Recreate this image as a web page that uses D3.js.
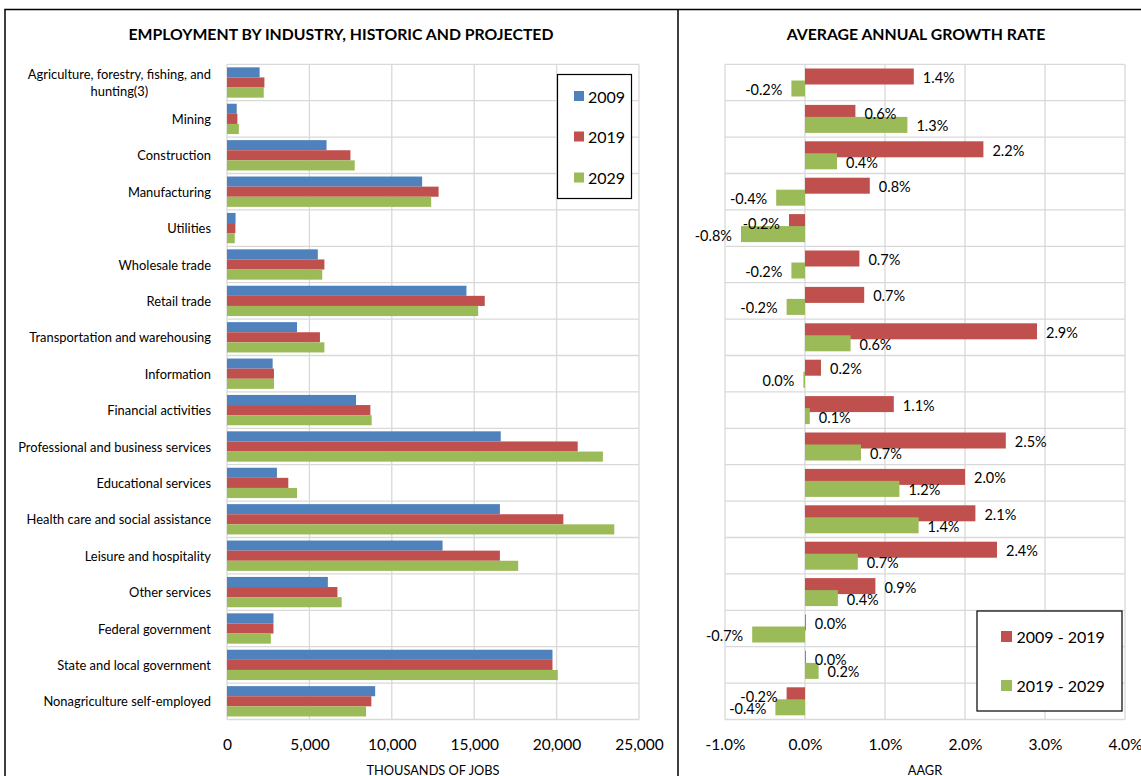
<!DOCTYPE html>
<html>
<head>
<meta charset="utf-8">
<script src="https://cdn.jsdelivr.net/npm/d3@7"></script>
<style>
  html, body { margin: 0; padding: 0; background: #fff; }
  svg { display: block; font-family: Lato, "Liberation Sans", sans-serif; }
</style>
</head>
<body>
<svg id="chart" width="1141" height="776"></svg>
<script>
// Industries, top to bottom
const categories = [
  "Agriculture, forestry, fishing, and hunting(3)",
  "Mining",
  "Construction",
  "Manufacturing",
  "Utilities",
  "Wholesale trade",
  "Retail trade",
  "Transportation and warehousing",
  "Information",
  "Financial activities",
  "Professional and business services",
  "Educational services",
  "Health care and social assistance",
  "Leisure and hospitality",
  "Other services",
  "Federal government",
  "State and local government",
  "Nonagriculture self-employed"
];

// Employment, thousands of jobs
const jobs2009 = [1.98, 0.59, 6.04, 11.84, 0.52, 5.51, 14.53, 4.25, 2.77, 7.83, 16.61, 3.03, 16.56, 13.08, 6.12, 2.82, 19.75, 8.99].map(v => v * 1000);
const jobs2019 = [2.27, 0.63, 7.49, 12.84, 0.51, 5.91, 15.64, 5.64, 2.85, 8.70, 21.28, 3.72, 20.41, 16.56, 6.70, 2.82, 19.75, 8.76].map(v => v * 1000);
const jobs2029 = [2.23, 0.72, 7.75, 12.39, 0.47, 5.78, 15.24, 5.91, 2.85, 8.78, 22.81, 4.25, 23.50, 17.67, 6.96, 2.66, 20.07, 8.44].map(v => v * 1000);
const jobYears = ["2009", "2019", "2029"];

// Average annual growth rate, percent
const growth0919 = [1.36, 0.63, 2.23, 0.81, -0.20, 0.68, 0.74, 2.90, 0.20, 1.11, 2.51, 2.00, 2.13, 2.40, 0.88, 0.01, 0.01, -0.23];
const growth1929 = [-0.17, 1.28, 0.40, -0.36, -0.80, -0.17, -0.23, 0.57, -0.02, 0.06, 0.70, 1.18, 1.42, 0.66, 0.41, -0.66, 0.17, -0.37];
const growthPeriods = ["2009 - 2019", "2019 - 2029"];

// Axis ticks
const jobTicks = [0, 5000, 10000, 15000, 20000, 25000];
const growthTicks = [-1, 0, 1, 2, 3, 4];

const colors = { blue: "#4f81bd", red: "#c0504d", green: "#9bbb59" };
const gridColor = "#d9d9d9";

// plain hyphen for negatives, and no "-0.0"
const fmt1 = v => {
  const s = d3.format(".1f")(v).replace("\u2212", "-");
  return s === "-0.0" ? "0.0" : s;
};
const pct = v => fmt1(v) + "%";

const svg = d3.select("#chart");

// Panel frames
svg.append("path")
  .attr("d", "M5,800 V9.5 H1141 M678,9.5 V800")
  .attr("fill", "none").attr("stroke", "#000").attr("stroke-width", 1.5);

const plotTop = 64.3, plotBottom = 719.5;

const rowScale = d3.scaleBand().domain(d3.range(categories.length)).range([plotTop, plotBottom]).padding(0);

// ---------- Left: employment by industry ----------
const xJobs = d3.scaleLinear().domain([0, 25000]).range([227, 639]);
const left = svg.append("g");

left.append("text")
  .attr("x", 341).attr("y", 33).attr("text-anchor", "middle").attr("dominant-baseline", "central")
  .attr("font-weight", "bold").attr("font-size", 15.8).attr("fill", "#000")
  .text("EMPLOYMENT BY INDUSTRY, HISTORIC AND PROJECTED");

// vertical gridlines
left.append("g").selectAll("line").data(jobTicks).join("line")
  .attr("x1", d => xJobs(d)).attr("x2", d => xJobs(d))
  .attr("y1", plotTop).attr("y2", plotBottom)
  .attr("stroke", gridColor).attr("stroke-width", 1.3);
// horizontal category separators
left.append("g").selectAll("line").data(d3.range(categories.length + 1)).join("line")
  .attr("x1", xJobs(0)).attr("x2", xJobs(25000))
  .attr("y1", i => plotTop + rowScale.step() * i).attr("y2", i => plotTop + rowScale.step() * i)
  .attr("stroke", gridColor).attr("stroke-width", 1.3);

const inner3 = d3.scaleBand().domain(jobYears).range([0, rowScale.bandwidth()]).paddingInner(0).paddingOuter(0.3);
const jobSeries = [
  { key: "2009", values: jobs2009, color: colors.blue },
  { key: "2019", values: jobs2019, color: colors.red },
  { key: "2029", values: jobs2029, color: colors.green }
];
jobSeries.forEach(s => {
  left.append("g").selectAll("rect").data(s.values).join("rect")
    .attr("x", xJobs(0))
    .attr("y", (d, i) => rowScale(i) + inner3(s.key))
    .attr("width", d => xJobs(d) - xJobs(0))
    .attr("height", inner3.bandwidth())
    .attr("fill", s.color);
});

// category labels, wrapped when too wide
const labelRight = 211, maxLabelWidth = 208;
const labelG = left.append("g").attr("font-size", 12.9).attr("fill", "#000");
categories.forEach((name, i) => {
  const cy = rowScale(i) + rowScale.bandwidth() / 2;
  const probe = labelG.append("text").text(name);
  const full = probe.node().getComputedTextLength();
  if (full <= maxLabelWidth) {
    probe.attr("x", labelRight).attr("y", cy).attr("text-anchor", "end").attr("dominant-baseline", "central");
    return;
  }
  probe.remove();
  const words = name.split(" ");
  const lines = [];
  let cur = "";
  const meas = labelG.append("text");
  words.forEach(w => {
    const t = cur ? cur + " " + w : w;
    meas.text(t);
    if (meas.node().getComputedTextLength() > maxLabelWidth && cur) { lines.push(cur); cur = w; }
    else cur = t;
  });
  lines.push(cur);
  let widest = 0;
  lines.forEach(l => { meas.text(l); widest = Math.max(widest, meas.node().getComputedTextLength()); });
  meas.remove();
  const lh = 16.5;
  const cx = labelRight - widest / 2;
  lines.forEach((l, k) => {
    labelG.append("text").attr("x", cx).attr("y", cy + (k - (lines.length - 1) / 2) * lh)
      .attr("text-anchor", "middle").attr("dominant-baseline", "central").text(l);
  });
});

// x axis
const xAxisJobs = d3.axisBottom(xJobs).tickValues(jobTicks).tickSize(0).tickPadding(0).tickFormat(d3.format(","));
const gxJ = left.append("g").attr("transform", "translate(0,745)").call(xAxisJobs);
gxJ.select(".domain").remove();
gxJ.selectAll("text").attr("font-size", 15.5).attr("font-family", "Lato, sans-serif").attr("fill", "#000").attr("dy", "0.32em").attr("y", 0);
left.append("text").attr("x", 433).attr("y", 769.5).attr("text-anchor", "middle").attr("dominant-baseline", "central")
  .attr("font-size", 12.8).attr("fill", "#000").text("THOUSANDS OF JOBS");

// legend
const legL = left.append("g");
legL.append("rect").attr("x", 557.5).attr("y", 74.5).attr("width", 74).attr("height", 124)
  .attr("fill", "#fff").attr("stroke", "#000").attr("stroke-width", 1.2);
jobSeries.forEach((s, k) => {
  const cy = [96, 136.5, 177.5][k];
  legL.append("rect").attr("x", 574).attr("y", cy - 5).attr("width", 10).attr("height", 10).attr("fill", s.color);
  legL.append("text").attr("x", 588).attr("y", cy).attr("dominant-baseline", "central")
    .attr("font-size", 16).attr("fill", "#000").text(s.key);
});

// ---------- Right: average annual growth rate ----------
const xGrowth = d3.scaleLinear().domain([-1, 4]).range([725, 1125]);
const right = svg.append("g");

right.append("text")
  .attr("x", 916).attr("y", 33).attr("text-anchor", "middle").attr("dominant-baseline", "central")
  .attr("font-weight", "bold").attr("font-size", 15.8).attr("fill", "#000")
  .text("AVERAGE ANNUAL GROWTH RATE");

right.append("g").selectAll("line").data(growthTicks).join("line")
  .attr("x1", d => xGrowth(d)).attr("x2", d => xGrowth(d))
  .attr("y1", plotTop).attr("y2", plotBottom)
  .attr("stroke", gridColor).attr("stroke-width", 1.3);
right.append("g").selectAll("line").data(d3.range(categories.length + 1)).join("line")
  .attr("x1", xGrowth(-1)).attr("x2", xGrowth(4))
  .attr("y1", i => plotTop + rowScale.step() * i).attr("y2", i => plotTop + rowScale.step() * i)
  .attr("stroke", gridColor).attr("stroke-width", 1.3);

const inner2 = d3.scalePoint().domain(growthPeriods).range([rowScale.bandwidth() / 2 - 6, rowScale.bandwidth() / 2 + 6]);
const barH = 16;
const growthSeries = [
  { key: growthPeriods[0], values: growth0919, color: colors.red },
  { key: growthPeriods[1], values: growth1929, color: colors.green }
];
growthSeries.forEach(s => {
  right.append("g").selectAll("rect").data(s.values).join("rect")
    .attr("x", d => Math.min(xGrowth(0), xGrowth(d)))
    .attr("y", (d, i) => rowScale(i) + inner2(s.key) - barH / 2)
    .attr("width", d => Math.abs(xGrowth(d) - xGrowth(0)))
    .attr("height", barH)
    .attr("fill", s.color);
});
growthSeries.forEach(s => {
  right.append("g").selectAll("text").data(s.values).join("text")
    .attr("x", d => xGrowth(d) + (d < 0 ? -9 : 9))
    .attr("y", (d, i) => rowScale(i) + inner2(s.key) + 1)
    .attr("text-anchor", d => d < 0 ? "end" : "start")
    .attr("dominant-baseline", "central")
    .attr("font-size", 14.5).attr("fill", "#000")
    .text(d => pct(d));
});

const xAxisGrowth = d3.axisBottom(xGrowth).tickValues(growthTicks).tickSize(0).tickPadding(0).tickFormat(pct);
const gxG = right.append("g").attr("transform", "translate(0,745)").call(xAxisGrowth);
gxG.select(".domain").remove();
gxG.selectAll("text").attr("font-size", 15.5).attr("font-family", "Lato, sans-serif").attr("fill", "#000").attr("dy", "0.32em").attr("y", 0);
right.append("text").attr("x", 925).attr("y", 769.5).attr("text-anchor", "middle").attr("dominant-baseline", "central")
  .attr("font-size", 12.8).attr("fill", "#000").text("AAGR");

const legR = right.append("g");
legR.append("rect").attr("x", 977).attr("y", 611).attr("width", 145).attr("height", 100)
  .attr("fill", "#fff").attr("stroke", "#000").attr("stroke-width", 1.2);
growthSeries.forEach((s, k) => {
  const cy = [636.5, 685.5][k];
  legR.append("rect").attr("x", 1001).attr("y", cy - 5.5).attr("width", 11).attr("height", 11).attr("fill", s.color);
  legR.append("text").attr("x", 1016.5).attr("y", cy).attr("dominant-baseline", "central")
    .attr("font-size", 16).attr("fill", "#000").text(s.key);
});
</script>
</body>
</html>
